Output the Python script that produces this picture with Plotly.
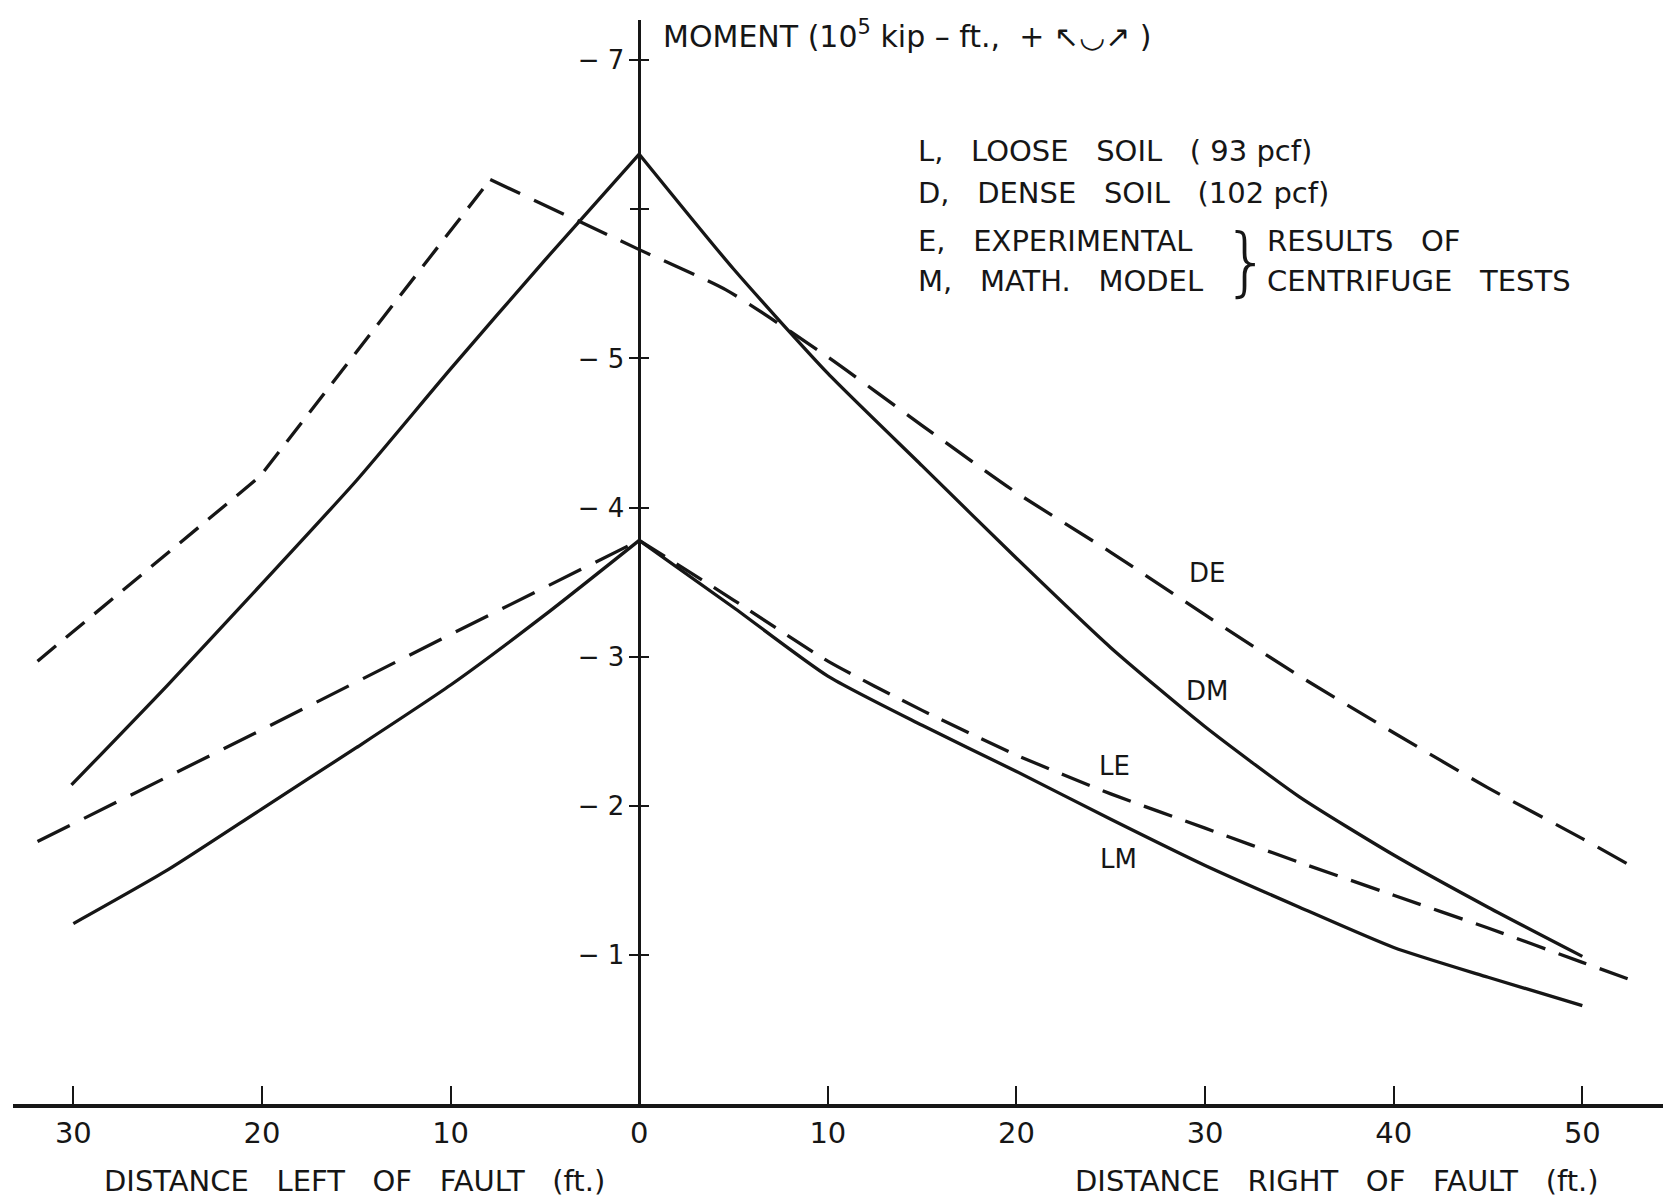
import plotly.graph_objects as go

# ---------------- data (moment in 10^5 kip-ft, negative = hogging) ----------------
# x: distance from fault in ft (negative = left of fault)
DE_x = [-31.9, -20.1, -7.9, 0, 4.6, 10, 15, 20, 25, 30, 35, 40, 45, 50, 52.4]
DE_y = [-2.97, -4.21, -6.20, -5.73, -5.46, -5.01, -4.55, -4.10, -3.70, -3.28, -2.87, -2.49, -2.12, -1.78, -1.61]

DM_x = [-30.1, -25, -20, -15, -10, -5, 0, 5, 10, 15, 20, 25, 30, 35, 40, 45, 50]
DM_y = [-2.14, -2.81, -3.49, -4.18, -4.93, -5.66, -6.37, -5.60, -4.90, -4.28, -3.66, -3.06, -2.53, -2.06, -1.67, -1.32, -0.99]

LE_x = [-31.9, -20, -10, 0, 5, 10, 15, 20, 25, 30, 35, 40, 45, 50, 52.4]
LE_y = [-1.76, -2.51, -3.15, -3.78, -3.38, -2.97, -2.64, -2.34, -2.08, -1.85, -1.62, -1.40, -1.18, -0.95, -0.84]

LM_x = [-30, -25, -20, -15, -10, -5, 0, 5, 10, 15, 20, 25, 30, 35, 40, 45, 50]
LM_y = [-1.21, -1.57, -1.98, -2.39, -2.81, -3.28, -3.78, -3.33, -2.87, -2.54, -2.23, -1.91, -1.60, -1.32, -1.05, -0.85, -0.66]

x_tickvals = [-30, -20, -10, 0, 10, 20, 30, 40, 50]
x_ticktext = ["30", "20", "10", "0", "10", "20", "30", "40", "50"]
y_tickvals = [-1, -2, -3, -4, -5, -6, -7]
y_labelvals = [-1, -2, -3, -4, -5, -7]          # -6 is unlabelled in the original
y_labeltext = ["\u2212 1", "\u2212 2", "\u2212 3", "\u2212 4", "\u2212 5", "\u2212 7"]
y_unlabelled = [-6]

curve_labels = ["DE", "DM", "LE", "LM"]
curve_label_pos = [(30.1, -3.56), (30.1, -2.77), (25.2, -2.27), (25.4, -1.64)]

S = "\u00a0"
legend_lines = ["L," + S * 3 + "LOOSE" + S * 3 + "SOIL" + S * 3 + "(" + S + "93" + S + "pcf)",
                "D," + S * 3 + "DENSE" + S * 3 + "SOIL" + S * 3 + "(102" + S + "pcf)",
                "E," + S * 3 + "EXPERIMENTAL",
                "M," + S * 3 + "MATH." + S * 3 + "MODEL"]
results_lines = ["RESULTS" + S * 3 + "OF", "CENTRIFUGE" + S * 3 + "TESTS"]

XR = [-33.2, 54.7]
YR = [0, -7.27]

FONT = "DejaVu Sans"
INK = "#161616"
LW = 3.3

fig = go.Figure()


def add_halves(xs, ys, dash_left, dash_right, shape_left, shape_right):
    k = ys.index(min(ys))  # peak (largest magnitude)
    fig.add_trace(go.Scatter(x=xs[:k + 1], y=ys[:k + 1], mode="lines",
                             line=dict(color=INK, width=LW, dash=dash_left, shape=shape_left,
                                       smoothing=0.6)))
    fig.add_trace(go.Scatter(x=xs[k:], y=ys[k:], mode="lines",
                             line=dict(color=INK, width=LW, dash=dash_right, shape=shape_right,
                                       smoothing=0.6)))


add_halves(DE_x, DE_y, "24px,13px", "33px,15px", "linear", "spline")
add_halves(DM_x, DM_y, "solid", "solid", "spline", "spline")
add_halves(LE_x, LE_y, "36px,16px", "30px,14px", "linear", "spline")
add_halves(LM_x, LM_y, "solid", "solid", "spline", "spline")
# carriers for the extra tick-only y axes
fig.add_trace(go.Scatter(x=[None], y=[None], yaxis="y2", mode="lines", hoverinfo="skip"))
fig.add_trace(go.Scatter(x=[None], y=[None], yaxis="y3", mode="lines", hoverinfo="skip"))

ypos = (0 - XR[0]) / (XR[1] - XR[0])
tick_common = dict(ticklen=9, tickwidth=1.6, tickcolor=INK)

fig.update_layout(
    width=1663, height=1190,
    margin=dict(l=5, r=0, t=12, b=94),
    paper_bgcolor="white", plot_bgcolor="white",
    showlegend=False,
    font=dict(family=FONT, color=INK),
    xaxis=dict(range=XR, showgrid=False, zeroline=False,
               showline=True, linecolor=INK, linewidth=3.5,
               ticks="inside", ticklen=18, tickwidth=1.6, tickcolor=INK,
               tickvals=x_tickvals, ticktext=x_ticktext,
               tickfont=dict(size=29, family=FONT, color=INK),
               ticklabelstandoff=0),
    yaxis=dict(range=YR, showgrid=False, zeroline=False,
               anchor="free", position=ypos,
               showline=True, linecolor=INK, linewidth=2.6,
               ticks="outside", **tick_common,
               tickvals=y_labelvals, ticktext=y_labeltext,
               tickfont=dict(size=26, family=FONT, color=INK)),
    yaxis2=dict(range=YR, overlaying="y", anchor="free", position=ypos,
                showgrid=False, zeroline=False, showline=False,
                ticks="inside", **tick_common,
                tickvals=y_tickvals, showticklabels=False),
    yaxis3=dict(range=YR, overlaying="y", anchor="free", position=ypos,
                showgrid=False, zeroline=False, showline=False,
                ticks="outside", **tick_common,
                tickvals=y_unlabelled, showticklabels=False),
)

# curve labels
for lab, (lx, ly) in zip(curve_labels, curve_label_pos):
    fig.add_annotation(x=lx, y=ly, text=lab, showarrow=False, xanchor="center", yanchor="middle",
                       font=dict(size=26, family=FONT, color=INK))

# key block
legend_y = [-6.39, -6.11, -5.785, -5.52]
for txt, ly in zip(legend_lines, legend_y):
    fig.add_annotation(x=14.67, y=ly, text=txt, showarrow=False, xanchor="left", yanchor="middle",
                       font=dict(size=29, family=FONT, color=INK))
fig.add_annotation(x=32.2, y=-5.655, text="}", showarrow=False, xanchor="center", yanchor="middle",
                   font=dict(size=74, family=FONT, color=INK, weight=300))
for txt, ly in zip(results_lines, legend_y[2:]):
    fig.add_annotation(x=33.2, y=ly, text=txt, showarrow=False,
                       xanchor="left", yanchor="middle", font=dict(size=29, family=FONT, color=INK))

# y-axis title at top
fig.add_annotation(x=1.15, y=-7.17,
                   text="MOMENT" + S + "(10<sup>5</sup>" + S + "kip" + S + "\u2013" + S + "ft.," + S * 2
                        + "+" + S + "\u2196\u25E1\u2197" + S + ")",
                   showarrow=False, xanchor="left", yanchor="middle",
                   font=dict(size=30, family=FONT, color=INK))

# x-axis titles (below the plot area)
fig.add_annotation(x=-15.1, y=-0.071, yref="paper",
                   text="DISTANCE" + S * 3 + "LEFT" + S * 3 + "OF" + S * 3 + "FAULT" + S * 3 + "(ft.)",
                   showarrow=False, xanchor="center", yanchor="middle",
                   font=dict(size=29, family=FONT, color=INK))
fig.add_annotation(x=37.0, y=-0.071, yref="paper",
                   text="DISTANCE" + S * 3 + "RIGHT" + S * 3 + "OF" + S * 3 + "FAULT" + S * 3 + "(ft.)",
                   showarrow=False, xanchor="center", yanchor="middle",
                   font=dict(size=29, family=FONT, color=INK))

fig.write_html("out.html")
